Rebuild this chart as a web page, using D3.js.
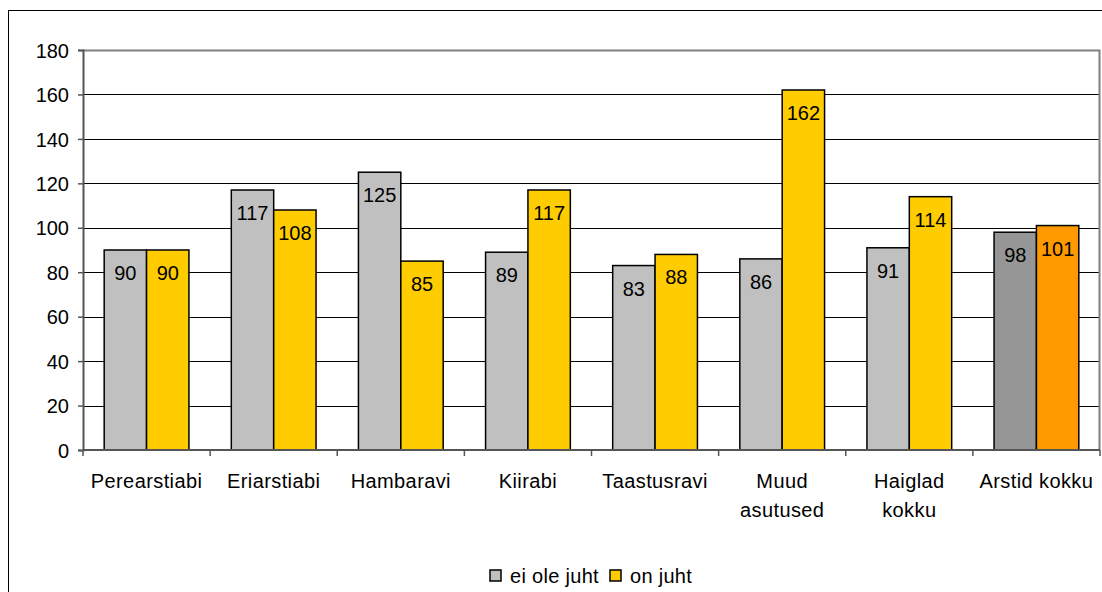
<!DOCTYPE html>
<meta charset="utf-8">
<script src="https://d3js.org/d3.v7.min.js"></script>
<style>
  body { margin: 0; background: #fff; font-family: 'Liberation Sans', Arial, sans-serif; }
  text { font-family: 'Liberation Sans', Arial, sans-serif; font-size: 20px; fill: #000; }
</style>
<div id="chart"></div>
<script>

var categories = ["Perearstiabi", "Eriarstiabi", "Hambaravi", "Kiirabi", "Taastusravi", "Muud\nasutused", "Haiglad\nkokku", "Arstid kokku"];
var eiOleJuht = [90, 117, 125, 89, 83, 86, 91, 98];
var onJuht = [90, 108, 85, 117, 88, 162, 114, 101];
var seriesNames = ["ei ole juht", "on juht"];
var yTicks = [0, 20, 40, 60, 80, 100, 120, 140, 160, 180];

var W = 1102, H = 592;
var margin = {top: 50, right: 2, bottom: 142, left: 83},
    width = W - margin.left - margin.right,
    height = H - margin.top - margin.bottom;

var svg = d3.select("#chart").append("svg")
    .attr("width", W).attr("height", H);

// outer chart border
svg.append("rect")
    .attr("x", 8.5).attr("y", 10.5)
    .attr("width", 1100).attr("height", 600)
    .attr("fill", "none").attr("stroke", "#000").attr("stroke-width", 1);

var g = svg.append("g")
    .attr("transform", "translate(" + margin.left + "," + margin.top + ")");

var x = d3.scaleBand()
    .domain(d3.range(categories.length))
    .range([0, width])
    .paddingInner(1 / 3)
    .paddingOuter(1 / 6);

var y = d3.scaleLinear().domain([0, 180]).range([height, 0]);

// gridlines
g.selectAll(".grid").data(yTicks.slice(1, -1)).enter().append("line")
    .attr("x1", 0).attr("x2", width)
    .attr("y1", function(d) { return Math.round(y(d)) + 0.5; })
    .attr("y2", function(d) { return Math.round(y(d)) + 0.5; })
    .attr("stroke", "#000").attr("stroke-width", 1);

// plot area border (top/right)
g.append("path")
    .attr("d", "M0,0.5H" + (width - 0.5) + "V" + height)
    .attr("fill", "none").attr("stroke", "#808080").attr("stroke-width", 2);

var data = d3.range(categories.length).map(function(i) {
  return [
    {i: i, s: 0, v: eiOleJuht[i], fill: i === 7 ? "#969696" : "#C0C0C0"},
    {i: i, s: 1, v: onJuht[i], fill: i === 7 ? "#FF9900" : "#FFCC00"}
  ];
});
var bw = x.bandwidth() / 2;

var bars = g.selectAll(".bar").data(data.flat()).enter().append("g");
bars.append("rect")
    .attr("x", function(d) { return x(d.i) + d.s * bw; })
    .attr("y", function(d) { return y(d.v); })
    .attr("width", bw)
    .attr("height", function(d) { return height - y(d.v); })
    .attr("fill", function(d) { return d.fill; })
    .attr("stroke", "#000").attr("stroke-width", 1.5);
bars.append("text")
    .attr("x", function(d) { return x(d.i) + d.s * bw + bw / 2; })
    .attr("y", function(d) { return y(d.v) + 30; })
    .attr("text-anchor", "middle")
    .text(function(d) { return d.v; });

// y axis
var yAxis = g.append("g")
    .call(d3.axisLeft(y).tickValues(yTicks).tickSize(5).tickPadding(9));
yAxis.select(".domain").attr("stroke", "#555").attr("stroke-width", 2);
yAxis.selectAll(".tick line").attr("stroke", "#555").attr("stroke-width", 1.5);
yAxis.selectAll(".tick text").style("font-size", "20px").attr("dy", "0.36em");

// x axis
var xb = g.append("g").attr("transform", "translate(0," + height + ")");
xb.append("line").attr("x1", 0).attr("x2", width).attr("y1", 0).attr("y2", 0)
    .attr("stroke", "#555").attr("stroke-width", 2);
xb.selectAll(".xt").data(d3.range(categories.length + 1)).enter().append("line")
    .attr("x1", function(d) { return d * x.step(); })
    .attr("x2", function(d) { return d * x.step(); })
    .attr("y1", 0).attr("y2", 6)
    .attr("stroke", "#555").attr("stroke-width", 1.5);
xb.selectAll(".xl").data(categories).enter().append("text")
    .attr("text-anchor", "middle")
    .attr("x", function(d, i) { return x(i) + x.bandwidth() / 2; })
    .attr("y", 38)
    .style("letter-spacing", "0.4px")
    .each(function(d) {
      var t = d3.select(this);
      d.split("\n").forEach(function(line, k) {
        t.append("tspan")
          .attr("x", t.attr("x"))
          .attr("dy", k === 0 ? 0 : 28.5)
          .text(line);
      });
    });

// legend
var legend = svg.append("g").attr("transform", "translate(490,570)");
var lx = [0, 120];
var lfill = ["#C0C0C0", "#FFCC00"];
seriesNames.forEach(function(name, i) {
  legend.append("rect")
      .attr("x", lx[i]).attr("y", 0).attr("width", 11).attr("height", 11)
      .attr("fill", lfill[i]).attr("stroke", "#000").attr("stroke-width", 1.5);
  legend.append("text")
      .attr("x", lx[i] + 20).attr("y", 13)
      .style("letter-spacing", "0.3px")
      .text(name);
});

</script>
